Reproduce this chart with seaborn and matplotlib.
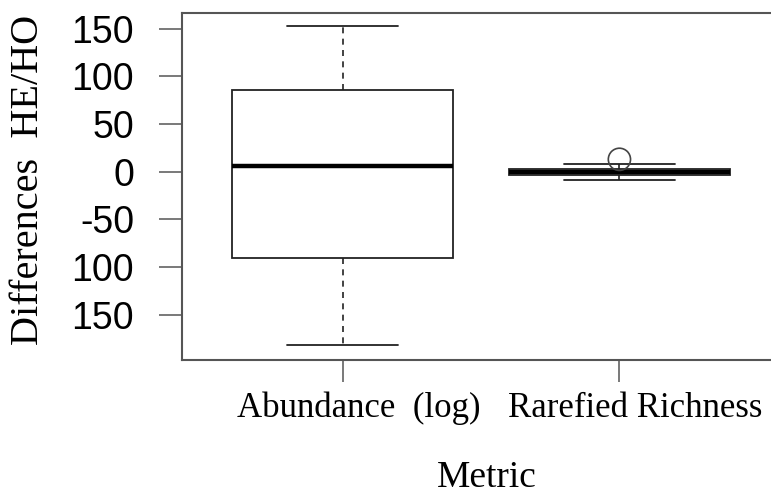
import matplotlib
matplotlib.use("Agg")
import matplotlib.pyplot as plt
import matplotlib.transforms as mtransforms
import pandas as pd
import seaborn as sns

# Metrics on the x axis
metrics = ["Abundance  (log)", "Rarefied Richness"]

# Five-number summary per metric (HE minus HO differences)
whisker_low = [-181.9, -9.0]
q1 = [-90.6, -3.5]
median = [6.3, 0.0]
q3 = [85.7, 2.8]
whisker_high = [152.9, 8.1]

# Points lying beyond the whiskers
outlier_metric = ["Rarefied Richness"]
outlier_value = [13.0]

# Y axis ticks
ytick_values = [150, 100, 50, 0, -50, -100, -150]
ytick_labels = ["150", "100", "50", "0", "-50", "100", "150"]

# Long-format table: each box is built from its five summary values
rows = []
for i, m in enumerate(metrics):
    for v in (whisker_low[i], q1[i], median[i], q3[i], whisker_high[i]):
        rows.append((m, v))
df = pd.DataFrame(rows, columns=["Metric", "Difference"])

sns.set_style("white")
plt.rcParams["font.family"] = ["Liberation Serif", "DejaVu Serif"]

W, H = 771, 497
fig = plt.figure(figsize=(W / 100, H / 100), dpi=100)
ax = fig.add_axes([182 / W, 1 - 360 / H, 598 / W, 347 / H])

line_col = "#222222"
frame_col = "#555555"

sns.boxplot(
    data=df, x="Metric", y="Difference", order=metrics,
    whis=(0, 100), width=0.8, fliersize=0, color="white",
    linecolor=line_col, linewidth=1.3,
    boxprops=dict(facecolor="white", edgecolor=line_col, linewidth=1.3),
    medianprops=dict(color="black", linewidth=3.2),
    whiskerprops=dict(color=line_col, linewidth=1.2, linestyle=(0, (3.6, 3.2))),
    capprops=dict(color=line_col, linewidth=1.3),
    ax=ax,
)

sns.stripplot(
    x=outlier_metric, y=outlier_value, order=metrics, jitter=False,
    marker="o", size=16, facecolors="none", edgecolor="#444444",
    linewidth=1.2, ax=ax,
)
for coll in ax.collections:
    coll.set_facecolor("none")

ax.set_xlim(-0.58, 1.58)
ax.set_ylim(-197.5, 166.5)

for side in ["left", "right", "top", "bottom"]:
    ax.spines[side].set_visible(True)
    ax.spines[side].set_color(frame_col)
    ax.spines[side].set_linewidth(1.5)

ax.set_yticks(ytick_values, ytick_labels, fontsize=27, fontfamily="Liberation Sans")
ax.set_xticks([0, 1], metrics, fontsize=25, fontfamily="Liberation Serif")
ax.tick_params(axis="y", left=True, length=16.5, width=1.1, color=frame_col,
               direction="out", pad=18, labelcolor="black")
ax.tick_params(axis="x", bottom=True, length=16, width=1.1, color=frame_col,
               direction="out", pad=7, labelcolor="black")

shift = mtransforms.ScaledTranslation(16 / 100, 0, fig.dpi_scale_trans)
for lbl in ax.get_xticklabels():
    lbl.set_transform(lbl.get_transform() + shift)

ax.set_ylabel("Differences  HE/HO", fontsize=29, color="black", va="center")
ax.yaxis.set_label_coords((29 - 182) / 598, (360 - 180) / 347)
ax.set_xlabel("Metric", fontsize=27, color="black", va="baseline")
ax.xaxis.set_label_coords((487 - 182) / 598, (360 - 487) / 347)

fig.savefig("out.png", dpi=100)
